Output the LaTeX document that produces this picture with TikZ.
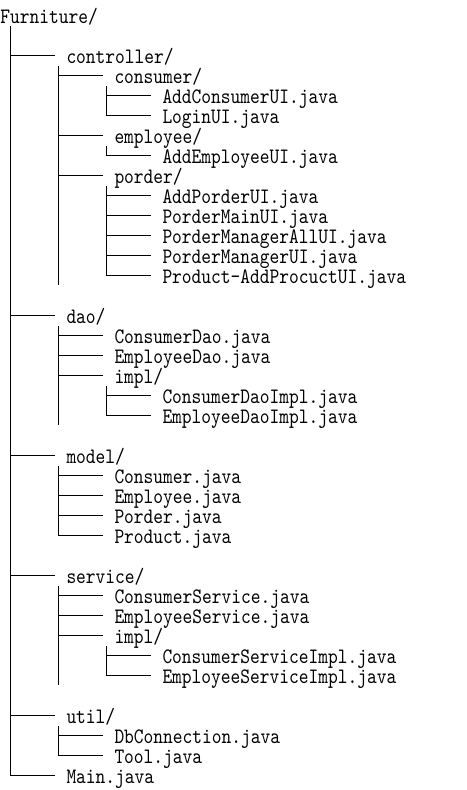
\documentclass[tikz,border=0pt]{standalone}
\usepackage{fontspec}
\newfontfamily\treefont[FakeStretch=0.844]{lmmono10-regular.otf}
\usetikzlibrary{calc}
\newcommand\br[1]{\draw ($(#1.base west)+(-56,-8)$) -- ($(#1.base west)+(-11,-8)$);}
% #1 parent, #2 first child, #3 last node, #4 end offset
\newcommand\trk[4]{%
  \coordinate (tk) at ($(#2.base west)+(-56,0)$);
  \draw ($(tk |- #1.base)+(0,3)$) -- ($(tk |- #3.base)+(0,#4)$);}
\begin{document}
\begin{tikzpicture}[x=1pt,y=-1pt,line width=1pt,
  tx/.style={anchor=base west,inner sep=0pt,font=\treefont\fontsize{22}{22}\selectfont}]
\useasboundingbox (0,0) rectangle (466,790);
\fill[white] (0,0) rectangle (466,790);
% root
\node[tx] (root) at (0,23) {Furniture/};
% level 1
\node[tx] (ctl)   at (66,63)  {controller/};
\node[tx] (dao)   at (66,323) {dao/};
\node[tx] (model) at (66,463) {model/};
\node[tx] (svc)   at (66,583) {service/};
\node[tx] (util)  at (66,723) {util/};
\node[tx] (main)  at (66,783) {Main.java};
% controller
\node[tx] (cons) at (114,83)  {consumer/};
\node[tx] (emp)  at (114,143) {employee/};
\node[tx] (pord) at (114,183) {porder/};
\node[tx] (acu)  at (162,103) {AddConsumerUI.java};
\node[tx] (lgn)  at (162,123) {LoginUI.java};
\node[tx] (aeu)  at (162,163) {AddEmployeeUI.java};
\node[tx] (apu)  at (162,203) {AddPorderUI.java};
\node[tx] (pmu)  at (162,223) {PorderMainUI.java};
\node[tx] (pmau) at (162,243) {PorderManagerAllUI.java};
\node[tx] (pmgu) at (162,263) {PorderManagerUI.java};
\node[tx] (ppu)  at (162,283) {Product-AddProcuctUI.java};
% dao
\node[tx] (cdao)  at (114,343) {ConsumerDao.java};
\node[tx] (edao)  at (114,363) {EmployeeDao.java};
\node[tx] (dimpl) at (114,383) {impl/};
\node[tx] (cdi)   at (162,403) {ConsumerDaoImpl.java};
\node[tx] (edi)   at (162,423) {EmployeeDaoImpl.java};
% model
\node[tx] (mcons) at (114,483) {Consumer.java};
\node[tx] (memp)  at (114,503) {Employee.java};
\node[tx] (mpor)  at (114,523) {Porder.java};
\node[tx] (mprod) at (114,543) {Product.java};
% service
\node[tx] (csv)   at (114,603) {ConsumerService.java};
\node[tx] (esv)   at (114,623) {EmployeeService.java};
\node[tx] (simpl) at (114,643) {impl/};
\node[tx] (csi)   at (162,663) {ConsumerServiceImpl.java};
\node[tx] (esi)   at (162,683) {EmployeeServiceImpl.java};
% util
\node[tx] (dbc)  at (114,743) {DbConnection.java};
\node[tx] (tool) at (114,763) {Tool.java};
% trunks
\trk{root}{ctl}{main}{-8}
\trk{ctl}{cons}{ppu}{2}
\trk{cons}{acu}{lgn}{-8}
\trk{emp}{aeu}{aeu}{-8}
\trk{pord}{apu}{ppu}{-8}
\trk{dao}{cdao}{edi}{2}
\trk{dimpl}{cdi}{edi}{-8}
\trk{model}{mcons}{mprod}{-8}
\trk{svc}{csv}{esi}{2}
\trk{simpl}{csi}{esi}{-8}
\trk{util}{dbc}{tool}{-8}
% branches
\foreach \n in {ctl,dao,model,svc,util,main,cons,emp,pord,acu,lgn,aeu,apu,pmu,pmau,pmgu,ppu,
  cdao,edao,dimpl,cdi,edi,mcons,memp,mpor,mprod,csv,esv,simpl,csi,esi,dbc,tool}{\br{\n}}
\end{tikzpicture}
\end{document}
